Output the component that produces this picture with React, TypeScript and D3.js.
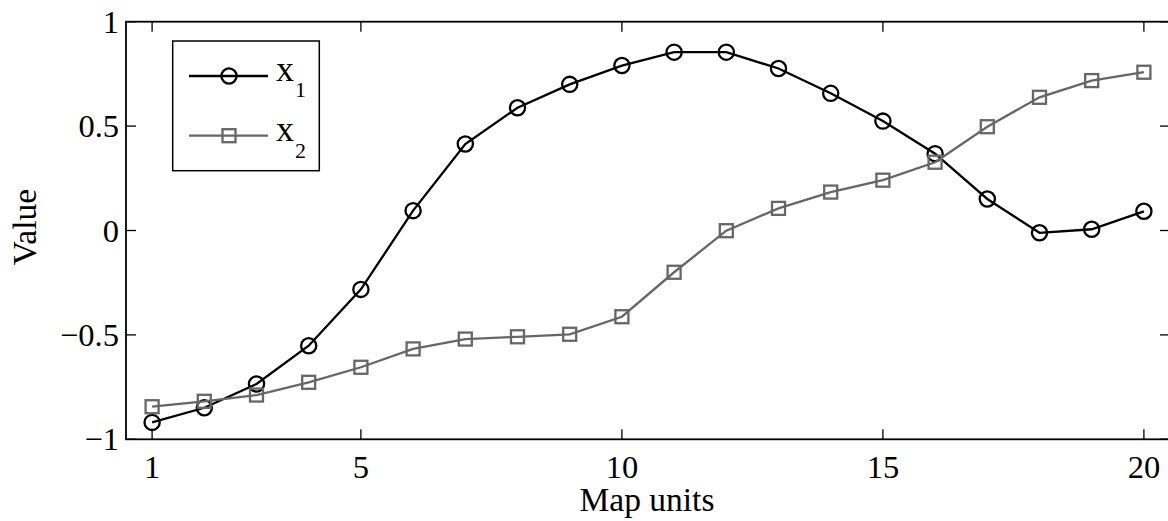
import React from "react";
import * as d3 from "d3";

// Map unit index along the x axis
const mapUnits = [1, 2, 3, 4, 5, 6, 7, 8, 9, 10, 11, 12, 13, 14, 15, 16, 17, 18, 19, 20];
// Series values
const x1Values = [-0.919, -0.849, -0.735, -0.552, -0.282, 0.095, 0.414, 0.588, 0.7, 0.79, 0.854, 0.854, 0.776, 0.657, 0.524, 0.368, 0.151, -0.011, 0.006, 0.092];
const x2Values = [-0.844, -0.818, -0.788, -0.727, -0.655, -0.567, -0.52, -0.509, -0.497, -0.413, -0.2, -0.001, 0.106, 0.184, 0.241, 0.327, 0.497, 0.638, 0.718, 0.758];
// Axis ticks
const xTicks = [1, 5, 10, 15, 20];
const yTicks = [-1, -0.5, 0, 0.5, 1];

const W = 1168;
const H = 521;
const FONT = '"Liberation Serif", "Times New Roman", Times, serif';
const GRAY = "#666666";

const fmt = (v: number) => (v < 0 ? "\u2212" + String(-v) : String(v));

export default function App() {
  const left = 126;
  const right = 1170;
  const top = 21.7;
  const bottom = 439.3;

  const x = d3.scaleLinear().domain([0.5, 20.5]).range([left, right]);
  const y = d3.scaleLinear().domain([-1, 1]).range([bottom, top]);

  const line = d3
    .line<number>()
    .x((_, i) => x(mapUnits[i]))
    .y((d) => y(d));

  const tick = 10;
  const sw = 2.3;

  return (
    <svg
      width={W}
      height={H}
      style={{ position: "absolute", left: 0, top: 0, background: "#fff" }}
      fontFamily={FONT}
    >
      <rect x={0} y={0} width={W} height={H} fill="#fff" />

      {/* series x1: black line with open circles */}
      <path d={line(x1Values) || ""} fill="none" stroke="#000" strokeWidth={sw} />
      {x1Values.map((v, i) => (
        <circle key={"c" + i} cx={x(mapUnits[i])} cy={y(v)} r={7.6} fill="none" stroke="#000" strokeWidth={sw} />
      ))}

      {/* series x2: gray line with open squares */}
      <path d={line(x2Values) || ""} fill="none" stroke={GRAY} strokeWidth={sw} />
      {x2Values.map((v, i) => (
        <rect key={"s" + i} x={x(mapUnits[i]) - 6.5} y={y(v) - 6.5} width={13} height={13} fill="none" stroke={GRAY} strokeWidth={sw} />
      ))}

      {/* axes box */}
      <rect x={left} y={top} width={right - left} height={bottom - top} fill="none" stroke="#000" strokeWidth={1.8} />

      {/* x ticks */}
      {xTicks.map((t) => (
        <g key={"xt" + t}>
          <line x1={x(t)} x2={x(t)} y1={bottom} y2={bottom - tick} stroke="#000" strokeWidth={1.3} />
          <line x1={x(t)} x2={x(t)} y1={top} y2={top + tick} stroke="#000" strokeWidth={1.3} />
          <text x={x(t)} y={478} textAnchor="middle" fontSize={32.5}>
            {fmt(t)}
          </text>
        </g>
      ))}

      {/* y ticks */}
      {yTicks.map((t) => (
        <g key={"yt" + t}>
          <line x1={left} x2={left + tick} y1={y(t)} y2={y(t)} stroke="#000" strokeWidth={1.3} />
          <line x1={right} x2={right - tick} y1={y(t)} y2={y(t)} stroke="#000" strokeWidth={1.3} />
          <text x={119} y={y(t) + 11} textAnchor="end" fontSize={32.5}>
            {fmt(t)}
          </text>
        </g>
      ))}

      {/* axis labels */}
      <text x={(left + right - 2) / 2} y={510.7} textAnchor="middle" fontSize={33.5}>
        Map units
      </text>
      <text transform={`translate(36,227) rotate(-90)`} textAnchor="middle" fontSize={33.5}>
        Value
      </text>

      {/* legend */}
      <rect x={172.7} y={41} width={146.6} height={129.7} fill="#fff" stroke="#000" strokeWidth={1.5} />
      <line x1={189} x2={268} y1={76} y2={76} stroke="#000" strokeWidth={sw} />
      <circle cx={229} cy={76} r={7.6} fill="none" stroke="#000" strokeWidth={sw} />
      <text x={276} y={81} fontSize={36}>
        x
      </text>
      <text x={295} y={97.3} fontSize={22}>
        1
      </text>
      <line x1={189} x2={268} y1={135.7} y2={135.7} stroke={GRAY} strokeWidth={sw} />
      <rect x={229 - 6.5} y={135.7 - 6.5} width={13} height={13} fill="none" stroke={GRAY} strokeWidth={sw} />
      <text x={276} y={141} fontSize={36}>
        x
      </text>
      <text x={295} y={157.5} fontSize={22}>
        2
      </text>
    </svg>
  );
}
